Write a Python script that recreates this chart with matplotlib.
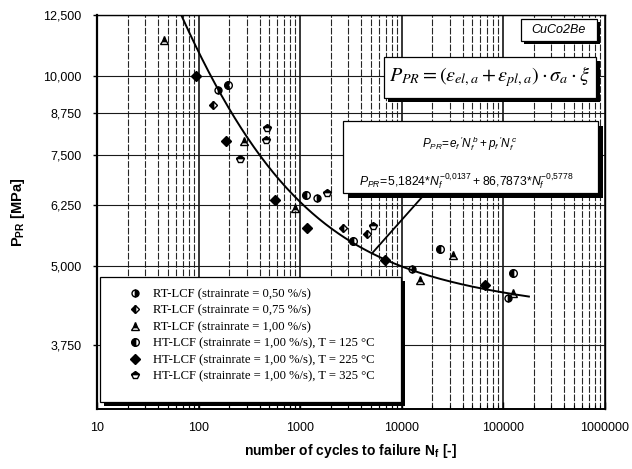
import numpy as np
import matplotlib
matplotlib.use("Agg")
import matplotlib.pyplot as plt
from matplotlib.patches import Rectangle
from matplotlib.ticker import FixedLocator, NullLocator, LogLocator, NullFormatter

# ---- data: cycles to failure N_f and damage parameter P_PR [MPa] ----
rt_050_N = [155, 1469, 12680, 112000]
rt_050_P = [9500, 6404, 4940, 4448]
rt_075_N = [139, 2655, 4570]
rt_075_P = [8990, 5740, 5620]
rt_100_N = [46, 281, 893, 15200, 32100, 125600]
rt_100_P = [11400, 7890, 6175, 4747, 5204, 4524]
ht_125_N = [195, 1146, 3330, 23900, 125600]
ht_125_P = [9680, 6476, 5475, 5317, 4866]
ht_225_N = [95, 187, 567, 1172, 6870, 66500]
ht_225_P = [10000, 7890, 6355, 5740, 5110, 4659]
ht_325_N = [254, 462, 473, 1845, 5250]
ht_325_P = [7380, 7915, 8270, 6530, 5780]

series_labels = [
    "RT-LCF (strainrate = 0,50 %/s)",
    "RT-LCF (strainrate = 0,75 %/s)",
    "RT-LCF (strainrate = 1,00 %/s)",
    "HT-LCF (strainrate = 1,00 %/s), T = 125 °C",
    "HT-LCF (strainrate = 1,00 %/s), T = 225 °C",
    "HT-LCF (strainrate = 1,00 %/s), T = 325 °C",
]

# fitted damage curve P_PR = e_f' * N^b + p_f' * N^c (coefficients in 1000 MPa)
e_f, b_exp = 5.1824, -0.0137
p_f, c_exp = 86.7873, -0.5778
fit_N_start, fit_N_end = 10, 180000

y_ticks = [3750, 5000, 6250, 7500, 8750, 10000, 12500]
y_tick_labels = ["3,750", "5,000", "6,250", "7,500", "8,750", "10,000", "12,500"]
x_ticks = [10, 100, 1000, 10000, 100000, 1000000]
x_tick_labels = ["10", "100", "1000", "10000", "100000", "1000000"]

material = "CuCo2Be"


def fit_curve(n):
    return 1000.0 * (e_f * n ** b_exp + p_f * n ** c_exp)


plt.rcParams["font.family"] = ["Liberation Sans", "DejaVu Sans"]
plt.rcParams["mathtext.fontset"] = "custom"
plt.rcParams["mathtext.rm"] = "Liberation Sans"
plt.rcParams["mathtext.it"] = "Liberation Sans:italic"
plt.rcParams["mathtext.bf"] = "Liberation Sans:bold"

W, H = 632, 469
fig = plt.figure(figsize=(W / 100, H / 100), dpi=100)
fig.patch.set_facecolor("white")


def fx(px):
    return px / W


def fy(py):
    return 1 - py / H


ax = fig.add_axes([fx(97), fy(409), fx(604.5) - fx(97), fy(15) - fy(409)])
ax.set_xscale("log")
ax.set_yscale("log")
ax.set_xlim(10, 1000000)
ax.set_ylim(2965, 12500)

# grid
ax.xaxis.set_major_locator(FixedLocator(x_ticks))
ax.set_xticklabels(x_tick_labels)
ax.xaxis.set_minor_locator(LogLocator(base=10, subs=np.arange(2, 10)))
ax.xaxis.set_minor_formatter(NullFormatter())
ax.yaxis.set_major_locator(FixedLocator(y_ticks))
ax.set_yticklabels(y_tick_labels)
ax.yaxis.set_minor_locator(NullLocator())

ax.grid(which="major", axis="x", color="black", lw=1.1)
ax.grid(which="minor", axis="x", color="#262626", lw=0.8, ls=(0, (6, 1.5)))
ax.grid(which="major", axis="y", color="#1a1a1a", lw=0.8)
ax.set_axisbelow(True)

for s in ax.spines.values():
    s.set_linewidth(1.0)
ax.spines["left"].set_linewidth(1.6)
ax.spines["bottom"].set_linewidth(1.4)

ax.tick_params(axis="x", which="major", direction="in", length=5, width=1, labelsize=9, pad=9)
ax.tick_params(axis="x", which="minor", direction="in", length=3, width=0.8)
ax.tick_params(axis="y", which="major", direction="out", length=3, width=1, labelsize=9, pad=8)

# damage curve
n_fit = np.logspace(np.log10(fit_N_start), np.log10(fit_N_end), 400)
ax.plot(n_fit, fit_curve(n_fit), color="black", lw=1.4, zorder=3)

# measured points
styles = [
    dict(marker="o", fillstyle="right", ms=5),
    dict(marker="D", fillstyle="left", ms=4.5),
    dict(marker="^", fillstyle="top", ms=5.5),
    dict(marker="o", fillstyle="left", ms=5.5),
    dict(marker="D", fillstyle="full", ms=5),
    dict(marker="p", fillstyle="top", ms=5.5),
]
series = [
    (rt_050_N, rt_050_P), (rt_075_N, rt_075_P), (rt_100_N, rt_100_P),
    (ht_125_N, ht_125_P), (ht_225_N, ht_225_P), (ht_325_N, ht_325_P),
]
handles = []
for (n, p), st, lab in zip(series, styles, series_labels):
    h, = ax.plot(n, p, ls="none", color="black", mfc="black", mec="black",
                 mew=1.0, label=lab, zorder=4, **st)
    handles.append(h)

ax.set_xlabel(r"number of cycles to failure N$_\mathbf{f}$ [-]", fontsize=10,
              fontweight="bold", labelpad=6)
ax.set_ylabel(r"$\mathbf{P}_{\mathbf{PR}}$ [MPa]", fontsize=10.5,
              fontweight="bold", labelpad=12)


def shadow_box(x0, y0, x1, y1, sx, sy, lw=0.9):
    """White box with a solid black drop shadow, given in pixel coords (top-left origin)."""
    fig.add_artist(Rectangle((fx(x0 + sx), fy(y1 + sy)), fx(x1) - fx(x0), fy(y0) - fy(y1),
                             transform=fig.transFigure, facecolor="black",
                             edgecolor="none", zorder=2))
    fig.add_artist(Rectangle((fx(x0), fy(y1)), fx(x1) - fx(x0), fy(y0) - fy(y1),
                             transform=fig.transFigure, facecolor="white",
                             edgecolor="black", lw=lw, zorder=3))


# material label
shadow_box(521, 19, 597, 41, 3, 3)
fig.text(fx(559), fy(30), material, fontsize=9, fontstyle="italic",
         ha="center", va="center", zorder=4)

# definition of the damage parameter
shadow_box(384, 57, 596, 98, 4, 4)
fig.text(fx(490), fy(77),
         r"$P_{PR} = (\varepsilon_{el,a} + \varepsilon_{pl,a})\cdot\sigma_a\cdot\xi$",
         fontsize=14.5, math_fontfamily="stix", ha="center", va="center", zorder=4)

# fitted relation
shadow_box(343, 121, 598, 193, 5, 5)
fig.text(fx(470), fy(144),
         r"$P_{PR}\!=\!e_f\,'N_f^{\,b} + p_f\,'N_f^{\,c}$",
         fontsize=8.5, ha="center", va="center", zorder=4)
fig.text(fx(466), fy(181),
         r"$P_{PR}\!=\!5{,}1824{*}N_f^{-0{,}0137} + 86{,}7873{*}N_f^{-0{,}5778}$",
         fontsize=8.8, ha="center", va="center", zorder=4)

# leader from the relation box to the curve
n_lead = 5120
ax.annotate("", xy=(n_lead, fit_curve(n_lead)), xycoords="data",
            xytext=(fx(423), fy(196)), textcoords="figure fraction",
            arrowprops=dict(arrowstyle="-", color="black", lw=1.3,
                            shrinkA=0, shrinkB=0), zorder=5)

# legend
shadow_box(100, 277, 401, 402, 4, 4)
leg = fig.legend(handles=handles, loc="upper left",
                 bbox_to_anchor=(fx(129), fy(288)), frameon=False,
                 prop=dict(family="Liberation Serif", size=9.1),
                 handlelength=1.0, handletextpad=0.9, labelspacing=0.36,
                 borderpad=0, borderaxespad=0)
leg.set_zorder(6)

fig.savefig("out.png", dpi=100, facecolor="white")
